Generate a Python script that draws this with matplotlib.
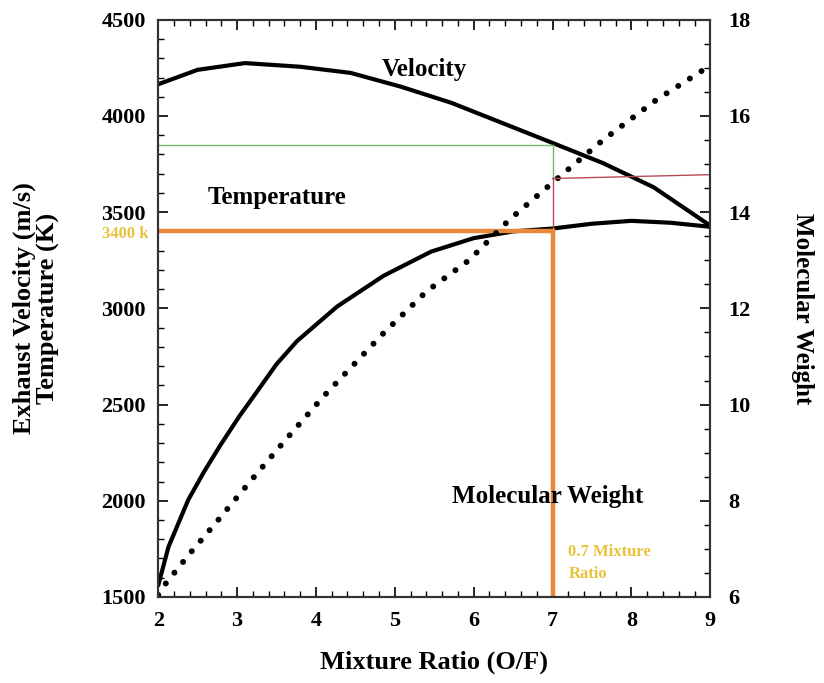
import matplotlib.pyplot as plt
from matplotlib.ticker import MultipleLocator

# data
ratio_vel = [2.0, 2.5, 3.1, 3.8, 4.44, 5.08, 5.72, 6.36, 7.0, 7.64, 8.28, 9.0]
velocity = [4165, 4240, 4275, 4256, 4224, 4152, 4068, 3964, 3860, 3755, 3630, 3430]

ratio_temp = [2.0, 2.13, 2.38, 2.58, 2.79, 3.03, 3.24, 3.5, 3.76, 4.27, 4.86,
              5.46, 6.0, 6.5, 7.0, 7.5, 8.0, 8.5, 9.0]
temperature = [1560, 1760, 2004, 2150, 2290, 2440, 2560, 2710, 2830, 3010, 3170,
               3295, 3365, 3400, 3415, 3440, 3455, 3445, 3424]

ratio_mw = [2.0, 2.1, 2.41, 2.73, 3.15, 3.58, 4.09, 4.86, 5.4, 5.94,
            6.45, 7.04, 7.64, 8.32, 9.0]
mol_weight = [6.04, 6.29, 6.92, 7.54, 8.37, 9.2, 10.16, 11.49, 12.35, 13.0,
              13.84, 14.67, 15.5, 16.34, 17.05]

mark_ratio = 7.0
mark_temp = 3400
mark_vel = 3850
mark_vel_low = 3680
mark_mw = [14.70, 14.78]
mark_mw_x = [7.0, 9.0]

plt.rcParams["font.family"] = ["Liberation Serif", "DejaVu Serif"]
plt.rcParams["font.weight"] = "bold"

fig = plt.figure(figsize=(8.24, 6.83), dpi=100)
ax = fig.add_axes([0.192, 0.126, 0.67, 0.845])
ax2 = ax.twinx()

ax.plot(ratio_vel, velocity, color="black", linewidth=3.0, solid_capstyle="round",
        solid_joinstyle="round")
ax.plot(ratio_temp, temperature, color="black", linewidth=3.0, solid_capstyle="round",
        solid_joinstyle="round")
ax2.plot(ratio_mw, mol_weight, color="black", linewidth=4.3,
         linestyle=(0, (0.01, 2.3)), dash_capstyle="round")

# guide lines
ax.plot([2, mark_ratio], [mark_vel, mark_vel], color="#6DBB74", linewidth=1.0)
ax.plot([mark_ratio, mark_ratio], [mark_vel, mark_vel_low], color="#6DBB74", linewidth=1.0)
ax.plot([mark_ratio, mark_ratio], [mark_vel_low, mark_temp], color="#B84B57", linewidth=1.0)
ax2.plot(mark_mw_x, mark_mw, color="#B84B57", linewidth=1.0)
ax.plot([2, mark_ratio], [mark_temp, mark_temp], color="#E8893A", linewidth=3.2)
ax.plot([mark_ratio, mark_ratio], [mark_temp, 1500], color="#E8893A", linewidth=3.2)

ax.set_xlim(2, 9)
ax.set_ylim(1500, 4500)
ax2.set_ylim(6, 18)

ax.xaxis.set_major_locator(MultipleLocator(1))
ax.xaxis.set_minor_locator(MultipleLocator(0.2))
ax.yaxis.set_major_locator(MultipleLocator(500))
ax.yaxis.set_minor_locator(MultipleLocator(100))
ax2.yaxis.set_major_locator(MultipleLocator(2))
ax2.yaxis.set_minor_locator(MultipleLocator(0.5))

for a in (ax, ax2):
    a.tick_params(which="major", direction="in", length=7, width=1.2, labelsize=16)
    a.tick_params(which="minor", direction="in", length=4, width=1.0)
    for s in a.spines.values():
        s.set_linewidth(1.5)
        s.set_color("#333333")
ax.tick_params(axis="x", which="both", top=True, pad=10)
ax.tick_params(axis="y", pad=9)
ax2.tick_params(axis="y", pad=13)

ax.set_xlabel("Mixture Ratio (O/F)", fontsize=19, fontweight="bold", labelpad=14)
ax.set_ylabel("Exhaust Velocity (m/s)\nTemperature (K)", fontsize=19,
              fontweight="bold", labelpad=30, linespacing=1.0)
ax2.set_ylabel("Molecular Weight", fontsize=18, fontweight="bold",
               rotation=270, labelpad=46)

ax.text(5.38, 4240, "Velocity", fontsize=18, fontweight="bold", ha="center", va="center")
ax.text(3.5, 3575, "Temperature", fontsize=18, fontweight="bold", ha="center", va="center")
ax.text(6.94, 2020, "Molecular Weight", fontsize=18, fontweight="bold", ha="center", va="center")
ax.text(1.88, 3385, "3400 k", fontsize=12, fontweight="bold", color="#E8C23A",
        ha="right", va="center")
ax.text(7.2, 1677, "0.7 Mixture\nRatio", fontsize=12, fontweight="bold", color="#E8C23A",
        ha="left", va="center", linespacing=1.5)

fig.savefig("out.png", dpi=100)
